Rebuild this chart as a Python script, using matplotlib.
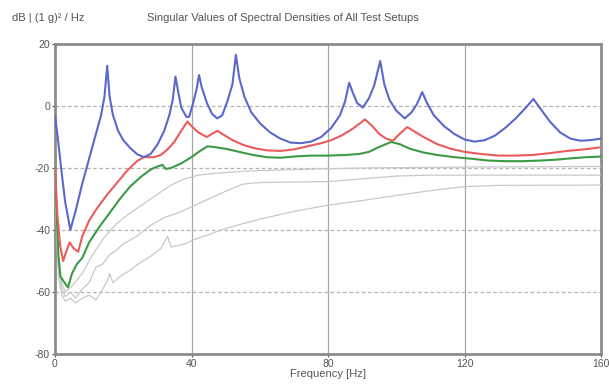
import matplotlib
matplotlib.use("Agg")
import matplotlib.pyplot as plt

# Singular values (dB), frequency in Hz
BLUE_F = [0, 1, 2, 3, 4.5, 6, 8, 10, 12, 13.5, 14.5, 15.3, 16, 17, 18.5, 20, 22, 24, 26, 28,
          30, 32, 33.5, 34.5, 35.3, 36.2, 37, 38.5, 39.3, 40.5, 41.5, 42.2, 43, 44.5, 46, 47.5,
          49, 50.5, 52, 53, 54, 55.5, 57.5, 60, 63, 66, 69, 72, 75, 78, 81, 83.5, 85, 86.2,
          87.2, 88.5, 90.2, 92, 93.5, 95.3, 96.5, 98, 100, 102.5, 104.5, 106, 107.6, 109, 111,
          114, 117, 120, 123, 126, 129, 132, 135, 138, 140.2, 142, 145, 148, 151, 154, 157, 160]
BLUE_DB = [-3, -12, -22, -31, -40, -34, -25, -17, -9, -3, 3, 13, 3, -3, -8, -11, -13.5, -15.5,
           -16.5, -15.5, -12.5, -8, -3, 2, 9.5, 4, -0.5, -3.5, -3.5, 1, 5.5, 10, 6, 1, -2.5, -4,
           -3, 1.5, 7, 16.5, 9, 3, -2, -5.5, -8.5, -10.5, -11.8, -12, -11.5, -10, -7, -3, 1.5,
           7.5, 4.5, 1, -0.5, 2.5, 6.5, 14.5, 7, 2, -1.5, -4, -2, 0.5, 4.5, 1, -3, -6.5, -9,
           -10.8, -11.5, -11, -9.5, -7, -4, -0.5, 2.3, -0.5, -5, -8.5, -10.5, -11.2, -11, -10.5]

RED_F = [0, 0.7, 1.5, 2.4, 3.3, 4.3, 5.5, 6.8, 8, 10, 12, 15, 18, 21, 24, 26, 29, 31, 33, 35,
         37, 38.8, 40, 42, 44.5, 46, 47.6, 49, 52, 55, 58, 62, 66, 70, 74, 78, 81, 84, 87,
         89.5, 90.8, 91.5, 93, 95, 97, 99, 101, 103.2, 105, 108, 112, 116, 120, 125, 130,
         135, 140, 145, 150, 155, 160]
RED_DB = [-20, -35, -45, -50, -47, -44, -46, -47, -42, -37, -33.5, -29, -25, -21, -17.8, -16.5,
          -16.5, -15.8, -14, -11.5, -8, -5, -6.5, -8.5, -10, -9, -8, -9, -11, -12.5, -13.5,
          -14.3, -14.5, -14, -13, -12, -11, -9.5, -7.5, -5.5, -4.3, -5, -6.5, -9, -10.5,
          -11.2, -9, -6.8, -8, -10, -12.3, -13.8, -14.8, -15.5, -16, -16, -15.8, -15.2,
          -14.5, -14, -13.3]

GREEN_F = [0, 0.5, 1, 1.6, 2.5, 3.8, 5, 6.4, 8, 10, 13, 16, 19, 22, 25, 28, 30, 31.5, 32.5,
           34, 37, 40, 42.5, 44.7, 47, 50, 54, 58, 62, 66, 70, 75, 80, 85, 89, 92, 95, 98.5,
           101, 104, 108, 112, 117, 122, 127, 132, 137, 142, 147, 152, 156, 160]
GREEN_DB = [-20, -35, -48, -55, -56.5, -58.5, -54, -51, -49, -44, -39, -34.5, -30, -26, -23,
            -20.5, -19.5, -19, -20.3, -20, -18.5, -16.5, -14.5, -13, -13.3, -13.8, -14.8,
            -15.8, -16.5, -16.7, -16.3, -16, -16, -15.8, -15.5, -14.8, -13.2, -11.6, -12.3,
            -13.8, -15, -15.8, -16.5, -17, -17.6, -17.8, -17.8, -17.6, -17.3, -16.8, -16.5,
            -16.3]

GRAY1_F = [0, 1, 2, 3, 5, 8, 11, 14, 18, 22, 26, 30, 34, 38, 42, 48, 56, 70, 90, 120, 160]
GRAY1_DB = [-22, -50, -57, -60, -58, -54, -48, -43, -38, -34.5, -31.5, -28.5, -25.5, -23.5,
            -22.3, -21.6, -21, -20.5, -20, -19.7, -19.5]

GRAY2_F = [0, 1, 2, 3, 4.5, 6, 8, 10, 12, 14, 16, 18, 20, 24, 28, 32, 36, 40, 45, 50, 55, 60,
           70, 80, 90, 100, 110, 130, 160]
GRAY2_DB = [-24, -52, -59, -61.5, -60, -62, -59, -57, -52, -51, -48, -46.5, -44.5, -42, -38.5,
            -36, -34.5, -32.5, -30, -27.5, -25.2, -24.7, -24.5, -24.4, -23.5, -22.6, -22.3,
            -22.3, -22.3]

GRAY3_F = [0, 1, 2, 3, 4.5, 6, 8, 10, 12, 14, 15.5, 16, 17, 19, 22, 25, 28, 31, 33, 34, 36, 38,
           41, 45, 50, 55, 60, 70, 80, 90, 101, 110, 120, 130, 160]
GRAY3_DB = [-26, -55, -61, -63, -62, -63.5, -62, -61, -62.5, -59, -56, -54, -57, -55, -53,
            -50.5, -48.5, -46, -42, -45.5, -45, -44.5, -43, -41.5, -39.5, -38, -36.5, -34, -32,
            -30.5, -28.7, -27.3, -26, -25.6, -25.5]

X_TICKS = [0, 40, 80, 120, 160]
Y_TICKS = [20, 0, -20, -40, -60, -80]

FONT = "Liberation Sans"
TXT = "#555555"
plt.rcParams["axes.unicode_minus"] = False

fig = plt.figure(figsize=(6.09, 3.85), dpi=100)
ax = fig.add_axes([0.0903, 0.0805, 0.8966, 0.8052])

ax.plot(GRAY3_F, GRAY3_DB, color="#c8c8c8", lw=0.9, zorder=3)
ax.plot(GRAY2_F, GRAY2_DB, color="#c8c8c8", lw=0.9, zorder=3)
ax.plot(GRAY1_F, GRAY1_DB, color="#c8c8c8", lw=0.9, zorder=3)
ax.plot(GREEN_F, GREEN_DB, color="#3c9a44", lw=1.5, zorder=4)
ax.plot(RED_F, RED_DB, color="#ec5b5b", lw=1.5, zorder=5)
ax.plot(BLUE_F, BLUE_DB, color="#5a68cc", lw=1.5, zorder=6)

ax.set_xlim(0, 160)
ax.set_ylim(-80, 20)
ax.set_xticks(X_TICKS)
ax.set_yticks(Y_TICKS)
ax.tick_params(labelsize=7.5, colors=TXT, length=2, width=0.8, pad=1.5)
for lbl in ax.get_xticklabels() + ax.get_yticklabels():
    lbl.set_family(FONT)

# vertical grid solid, horizontal dashed
for x in X_TICKS[1:-1]:
    ax.axvline(x, color="#a8a8a8", lw=0.9, zorder=1)
for y in Y_TICKS[1:-1]:
    ax.axhline(y, color="#b4b4b4", lw=0.9, ls=(0, (3, 2)), zorder=1)

for sp in ax.spines.values():
    sp.set_color("#8c8c8c")
    sp.set_linewidth(2)

ax.set_xlabel("Frequency [Hz]", fontsize=8, color=TXT, family=FONT, labelpad=0)
fig.text(0.02, 0.953, "dB | (1 g)² / Hz", fontsize=8, color=TXT, family=FONT,
         ha="left", va="center")
fig.text(0.465, 0.953, "Singular Values of Spectral Densities of All Test Setups",
         fontsize=8, color=TXT, family=FONT, ha="center", va="center")

fig.savefig("out.png", dpi=100)
plt.close(fig)
